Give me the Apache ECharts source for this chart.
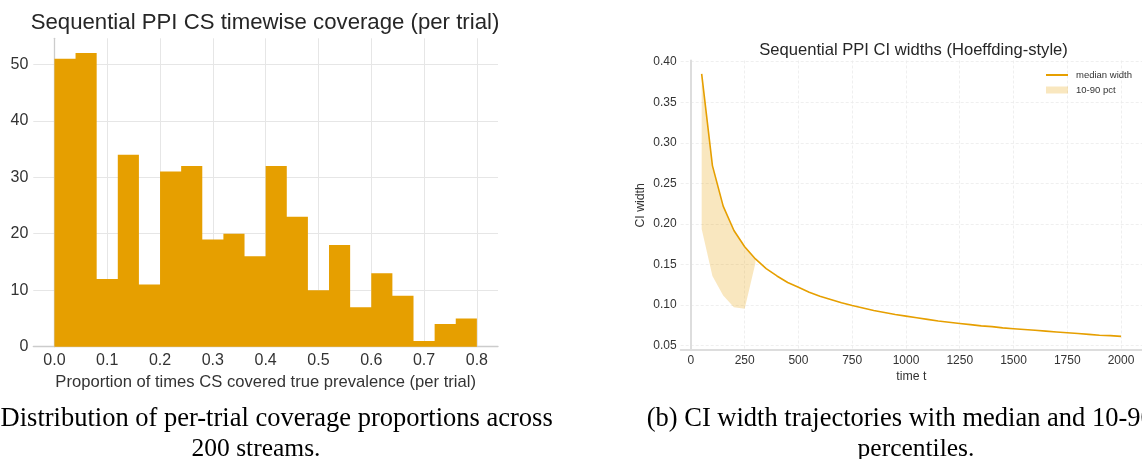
<!DOCTYPE html>
<html>
<head>
<meta charset="utf-8">
<script src="https://cdn.jsdelivr.net/npm/echarts@6/dist/echarts.min.js"></script>
<style>
  html, body { margin: 0; padding: 0; background: #fff; }
  #chart { width: 1142px; height: 459px; }
</style>
</head>
<body>
<div id="chart"></div>
<script>
// ---------- Data: left histogram ----------
const binEdges = [0.00, 0.04, 0.08, 0.12, 0.16, 0.20, 0.24, 0.28, 0.32, 0.36, 0.40,
                  0.44, 0.48, 0.52, 0.56, 0.60, 0.64, 0.68, 0.72, 0.76, 0.80];
const binCounts = [51, 52, 12, 34, 11, 31, 32, 19, 20, 16, 32, 23, 10, 18, 7, 13, 9, 1, 4, 5];
const histXTicks = ['0.0', '0.1', '0.2', '0.3', '0.4', '0.5', '0.6', '0.7', '0.8'];

// ---------- Data: right CI widths ----------
const timeT = [50, 100, 150, 200, 250, 300, 350, 400, 450, 500, 550, 600, 650, 700, 750, 800, 850, 900, 950, 1000,
               1050, 1100, 1150, 1200, 1250, 1300, 1350, 1400, 1450, 1500, 1550, 1600, 1650, 1700, 1750, 1800, 1850, 1900, 1950, 2000];
const medianWidth = [0.385, 0.272, 0.222, 0.192, 0.172, 0.157, 0.145, 0.136, 0.128, 0.122, 0.116, 0.111, 0.107, 0.103, 0.0995, 0.0965, 0.0935, 0.091, 0.0885, 0.0865,
                     0.0845, 0.0825, 0.0805, 0.079, 0.0775, 0.076, 0.0745, 0.0735, 0.072, 0.071, 0.070, 0.069, 0.068, 0.067, 0.066, 0.065, 0.064, 0.063, 0.0625, 0.0615];
const bandT = [50, 100, 150, 200, 250, 300];
const bandLow = [0.194, 0.136, 0.112, 0.0975, 0.0955, 0.152];
const bandHigh = [0.385, 0.272, 0.222, 0.192, 0.172, 0.157];

const ORANGE = '#E69F00';
const BAND = 'rgba(230,159,0,0.25)';
const FONT = '"Liberation Sans", Arial, sans-serif';
const SERIF = '"Liberation Serif", "Times New Roman", serif';

const lineData = timeT.map((t, i) => [t, medianWidth[i]]);

const chart = echarts.init(document.getElementById('chart'), null, { renderer: 'canvas' });

const option = {
  backgroundColor: '#ffffff',
  animation: false,
  textStyle: { fontFamily: FONT },
  grid: [
    { left: 33.3, top: 38.3, width: 464.7, height: 308.4 },
    { left: 680.7, top: 60.5, width: 465.5, height: 289.7 }
  ],
  xAxis: [
    {
      gridIndex: 0, type: 'value', min: -0.04, max: 0.84, minInterval: 0.1, maxInterval: 0.1,
      axisLine: { show: true, lineStyle: { color: '#cccccc', width: 1.3 } },
      axisTick: { show: false },
      axisLabel: {
        fontSize: 16, color: '#333', margin: 6, showMinLabel: false, showMaxLabel: false,
        formatter: v => histXTicks[Math.round(v * 10)] || ''
      },
      splitLine: { show: true, showMinLine: false, showMaxLine: false, lineStyle: { color: '#e6e6e6', width: 1 } },
      name: 'Proportion of times CS covered true prevalence (per trial)',
      nameLocation: 'middle', nameGap: 25,
      nameTextStyle: { fontSize: 16.6, color: '#333' }
    },
    {
      gridIndex: 1, type: 'value', min: -47.5, max: 2097.5, minInterval: 250, maxInterval: 250,
      axisLine: { show: true, lineStyle: { color: '#dddddd', width: 2 } },
      axisTick: { show: false },
      axisLabel: { fontSize: 12, color: '#333', margin: 4, showMinLabel: false, showMaxLabel: false,
        formatter: v => String(Math.round(v)) },
      splitLine: { show: true, showMinLine: false, showMaxLine: false, lineStyle: { color: '#ebebeb', width: 0.8, type: [3, 2] } },
      name: 'time t', nameLocation: 'middle', nameGap: 18,
      nameTextStyle: { fontSize: 12.3, color: '#333' }
    }
  ],
  yAxis: [
    {
      gridIndex: 0, type: 'value', min: 0, max: 54.6, interval: 10,
      axisLine: { show: true, lineStyle: { color: '#cccccc', width: 1.3 } },
      axisTick: { show: false },
      axisLabel: { fontSize: 16, color: '#333', margin: 5, showMaxLabel: false },
      splitLine: { show: true, showMaxLine: false, lineStyle: { color: '#e6e6e6', width: 1 } }
    },
    {
      gridIndex: 1, type: 'value', min: 0.0445, max: 0.4015, minInterval: 0.05, maxInterval: 0.05,
      axisLine: { show: true, lineStyle: { color: '#dddddd', width: 2 } },
      axisTick: { show: false },
      axisLabel: { fontSize: 12, color: '#333', margin: 4, showMinLabel: false, showMaxLabel: false,
        formatter: v => v.toFixed(2) },
      splitLine: { show: true, showMinLine: false, showMaxLine: false, lineStyle: { color: '#ebebeb', width: 0.8, type: [3, 2] } },
      name: 'CI width', nameLocation: 'middle', nameGap: 34, nameRotate: 90,
      nameTextStyle: { fontSize: 12.3, color: '#333' }
    }
  ],
  legend: {
    orient: 'vertical', left: 1040, top: 65,
    itemWidth: 22, itemHeight: 7, itemGap: 5,
    textStyle: { fontSize: 9.5, color: '#333', padding: [0, 0, 0, 3] },
    data: [
      { name: 'median width', itemStyle: { opacity: 0 } },
      { name: '10-90 pct', icon: 'rect', itemStyle: { color: BAND } }
    ]
  },
  series: [
    {
      type: 'custom', name: 'hist', xAxisIndex: 0, yAxisIndex: 0,
      data: [[binEdges[0], 0]],
      renderItem: function (params, api) {
        const pts = [api.coord([binEdges[0], 0])];
        for (let i = 0; i < binCounts.length; i++) {
          pts.push(api.coord([binEdges[i], binCounts[i]]));
          pts.push(api.coord([binEdges[i + 1], binCounts[i]]));
        }
        pts.push(api.coord([binEdges[binEdges.length - 1], 0]));
        return { type: 'polygon', shape: { points: pts }, style: { fill: ORANGE } };
      },
      z: 3
    },
    {
      type: 'custom', name: '10-90 pct', xAxisIndex: 1, yAxisIndex: 1,
      itemStyle: { color: BAND },
      data: [[bandT[0], bandHigh[0]]],
      renderItem: function (params, api) {
        const pts = [];
        for (let i = 0; i < bandT.length; i++) pts.push(api.coord([bandT[i], bandHigh[i]]));
        for (let i = bandT.length - 1; i >= 0; i--) pts.push(api.coord([bandT[i], bandLow[i]]));
        return { type: 'polygon', shape: { points: pts }, style: { fill: BAND } };
      },
      z: 2
    },
    {
      type: 'line', name: 'median width', xAxisIndex: 1, yAxisIndex: 1,
      data: lineData, symbol: 'none', smooth: false,
      lineStyle: { color: ORANGE, width: 1.6 }, itemStyle: { color: ORANGE },
      z: 4
    }
  ],
  graphic: [
    { type: 'text', x: 265, y: 23, style: { text: 'Sequential PPI CS timewise coverage (per trial)', font: '22.2px ' + FONT, fill: '#262626', textAlign: 'center', textVerticalAlign: 'middle' } },
    { type: 'text', x: 913.5, y: 50, style: { text: 'Sequential PPI CI widths (Hoeffding-style)', font: '16.6px ' + FONT, fill: '#262626', textAlign: 'center', textVerticalAlign: 'middle' } },
    { type: 'text', x: 552.7, y: 419, style: { text: '(a) Distribution of per-trial coverage proportions across', font: '26.5px ' + SERIF, fill: '#000', textAlign: 'right', textVerticalAlign: 'middle' } },
    { type: 'text', x: 256, y: 449, style: { text: '200 streams.', font: '25.5px ' + SERIF, fill: '#000', textAlign: 'center', textVerticalAlign: 'middle' } },
    { type: 'text', x: 646.7, y: 419, style: { text: '(b) CI width trajectories with median and 10-90', font: '26.5px ' + SERIF, fill: '#000', textAlign: 'left', textVerticalAlign: 'middle' } },
    { type: 'text', x: 916, y: 449, style: { text: 'percentiles.', font: '25.5px ' + SERIF, fill: '#000', textAlign: 'center', textVerticalAlign: 'middle' } }
  ]
};
chart.setOption(option);
</script>
</body>
</html>
